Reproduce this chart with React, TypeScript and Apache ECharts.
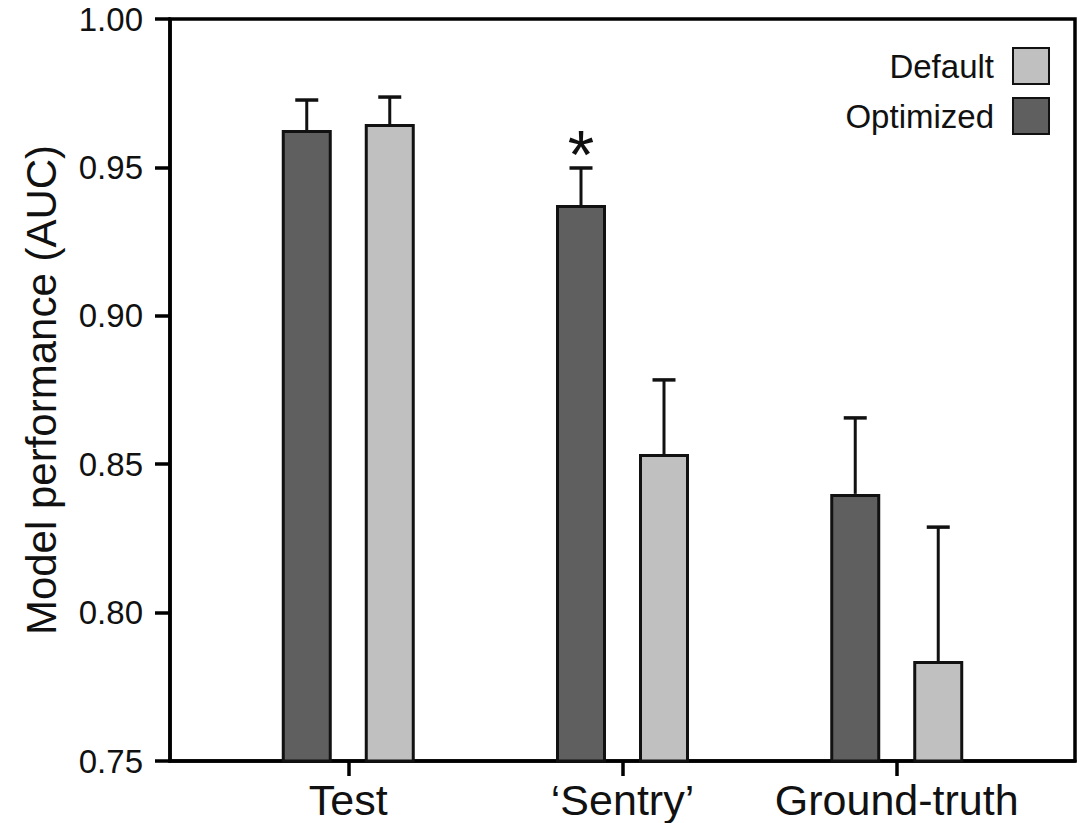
import React, { useEffect, useRef } from "react";
import * as echarts from "echarts";

const categories = ["Test", "\u2018Sentry\u2019", "Ground-truth"];
const categoryPositions = [0, 1, 2];
const optimizedMean = [0.9626, 0.9373, 0.84];
const optimizedUpper = [0.9727, 0.9498, 0.8656];
const defaultMean = [0.9646, 0.8534, 0.7837];
const defaultUpper = [0.9737, 0.8784, 0.8288];
const optimizedSignificant = [0, 1, 0];
const defaultSignificant = [0, 0, 0];
const yMin = 0.75;
const yMax = 1.0;
const yInterval = 0.05;

const FONT = "'Liberation Sans', Arial, Helvetica, sans-serif";
const DARK = "#5f5f5f";
const LIGHT = "#c0c0c0";
const EDGE = "#111111";
const BAR_W = 50;
const BAR_GAP = 33;
const HALF = (BAR_W + BAR_GAP) / 2;

function errorSeries(name: string, mean: number[], upper: number[], sig: number[], offset: number) {
  return {
    name: name + " error",
    type: "custom",
    z: 5,
    silent: true,
    data: categoryPositions.map((x, i) => [x, mean[i], upper[i], sig[i]]),
    renderItem: (params: any, api: any) => {
      const x = api.value(0);
      const m = api.value(1);
      const u = api.value(2);
      const s = api.value(3);
      const p0 = api.coord([x, m]);
      const p1 = api.coord([x, u]);
      const cx = p0[0] + offset;
      const children: any[] = [
        {
          type: "line",
          shape: { x1: cx, y1: p0[1], x2: cx, y2: p1[1] },
          style: { stroke: EDGE, lineWidth: 3 },
        },
        {
          type: "line",
          shape: { x1: cx - 11.5, y1: p1[1], x2: cx + 11.5, y2: p1[1] },
          style: { stroke: EDGE, lineWidth: 3.5 },
        },
      ];
      if (s) {
        children.push({
          type: "text",
          x: cx,
          y: p1[1] - 14,
          style: {
            text: "*",
            fontSize: 68,
            fontFamily: FONT,
            fill: "#111",
            align: "center",
            verticalAlign: "middle",
          },
        });
      }
      return { type: "group", children };
    },
  };
}

export default function App() {
  const ref = useRef<HTMLDivElement>(null);
  useEffect(() => {
    if (!ref.current) return;
    const chart = echarts.init(ref.current, undefined, { renderer: "svg" });
    chart.setOption({
      animation: false,
      backgroundColor: "#ffffff",
      grid: {
        left: 170,
        right: 14,
        top: 19,
        bottom: 62,
        show: true,
        borderColor: "#000",
        borderWidth: 3.5,
        backgroundColor: "transparent",
      },
      legend: {
        orient: "vertical",
        right: 34,
        top: 42,
        align: "right",
        itemWidth: 36,
        itemHeight: 36,
        itemGap: 12,
        icon: "rect",
        data: ["Default", "Optimized"],
        textStyle: {
          fontSize: 33,
          fontFamily: FONT,
          color: "#111",
          padding: [0, 14, 0, 0],
        },
      },
      xAxis: {
        type: "value",
        min: -0.65,
        max: 2.65,
        splitLine: { show: false },
        axisLine: { show: true, onZero: false, lineStyle: { color: "#000", width: 3.5 } },
        axisTick: {
          show: true,
          length: 15,
          inside: false,
          customValues: categoryPositions,
          lineStyle: { color: "#000", width: 3.5 },
        },
        axisLabel: {
          customValues: categoryPositions,
          formatter: (v: number) => categories[Math.round(v)] ?? "",
          fontSize: 43,
          fontFamily: FONT,
          color: "#111",
          margin: 17,
        },
      },
      yAxis: {
        type: "value",
        min: yMin,
        max: yMax,
        interval: yInterval,
        name: "Model performance (AUC)",
        nameLocation: "middle",
        nameGap: 108,
        nameTextStyle: { fontSize: 42, fontFamily: FONT, color: "#111" },
        splitLine: { show: false },
        axisLine: { show: true, onZero: false, lineStyle: { color: "#000", width: 3.5 } },
        axisTick: { show: true, length: 15, inside: false, lineStyle: { color: "#000", width: 3.5 } },
        axisLabel: {
          formatter: (v: number) => v.toFixed(2),
          fontSize: 33,
          fontFamily: FONT,
          color: "#111",
          margin: 27,
        },
      },
      series: [
        {
          name: "Optimized",
          type: "bar",
          barWidth: BAR_W,
          barGap: (BAR_GAP / BAR_W) * 100 + "%",
          clip: true,
          itemStyle: { color: DARK, borderColor: EDGE, borderWidth: 3 },
          data: categoryPositions.map((x, i) => [x, optimizedMean[i]]),
        },
        {
          name: "Default",
          type: "bar",
          barWidth: BAR_W,
          barGap: (BAR_GAP / BAR_W) * 100 + "%",
          clip: true,
          itemStyle: { color: LIGHT, borderColor: EDGE, borderWidth: 3 },
          data: categoryPositions.map((x, i) => [x, defaultMean[i]]),
        },
        errorSeries("Optimized", optimizedMean, optimizedUpper, optimizedSignificant, -HALF),
        errorSeries("Default", defaultMean, defaultUpper, defaultSignificant, HALF),
      ],
    });
    return () => chart.dispose();
  }, []);
  return (
    <div
      ref={ref}
      style={{ position: "fixed", left: 0, top: 0, width: 1089, height: 823, background: "#fff" }}
    />
  );
}
